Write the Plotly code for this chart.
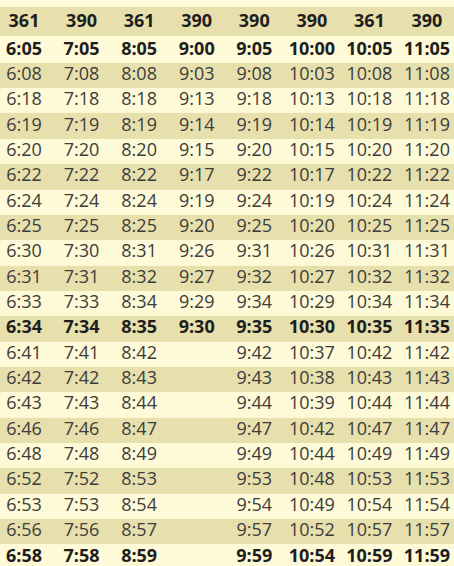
import plotly.graph_objects as go

routes = ["361", "390", "361", "390", "390", "390", "361", "390"]

col1 = ["6:05", "6:08", "6:18", "6:19", "6:20", "6:22", "6:24", "6:25", "6:30", "6:31", "6:33",
        "6:34", "6:41", "6:42", "6:43", "6:46", "6:48", "6:52", "6:53", "6:56", "6:58"]
col2 = ["7:05", "7:08", "7:18", "7:19", "7:20", "7:22", "7:24", "7:25", "7:30", "7:31", "7:33",
        "7:34", "7:41", "7:42", "7:43", "7:46", "7:48", "7:52", "7:53", "7:56", "7:58"]
col3 = ["8:05", "8:08", "8:18", "8:19", "8:20", "8:22", "8:24", "8:25", "8:31", "8:32", "8:34",
        "8:35", "8:42", "8:43", "8:44", "8:47", "8:49", "8:53", "8:54", "8:57", "8:59"]
col4 = ["9:00", "9:03", "9:13", "9:14", "9:15", "9:17", "9:19", "9:20", "9:26", "9:27", "9:29",
        "9:30", "", "", "", "", "", "", "", "", ""]
col5 = ["9:05", "9:08", "9:18", "9:19", "9:20", "9:22", "9:24", "9:25", "9:31", "9:32", "9:34",
        "9:35", "9:42", "9:43", "9:44", "9:47", "9:49", "9:53", "9:54", "9:57", "9:59"]
col6 = ["10:00", "10:03", "10:13", "10:14", "10:15", "10:17", "10:19", "10:20", "10:26", "10:27", "10:29",
        "10:30", "10:37", "10:38", "10:39", "10:42", "10:44", "10:48", "10:49", "10:52", "10:54"]
col7 = ["10:05", "10:08", "10:18", "10:19", "10:20", "10:22", "10:24", "10:25", "10:31", "10:32", "10:34",
        "10:35", "10:42", "10:43", "10:44", "10:47", "10:49", "10:53", "10:54", "10:57", "10:59"]
col8 = ["11:05", "11:08", "11:18", "11:19", "11:20", "11:22", "11:24", "11:25", "11:31", "11:32", "11:34",
        "11:35", "11:42", "11:43", "11:44", "11:47", "11:49", "11:53", "11:54", "11:57", "11:59"]

bold_rows = [0, 11, 20]

LIGHT = "#FEF9D6"
DARK = "#E7E0AD"
FONT = "Open Sans"
SIZE = 18

columns = [col1, col2, col3, col4, col5, col6, col7, col8]
n_rows = len(col1)
n_cols = len(columns)

# geometry (in axis units: one data row = 1, one column = 1)
HEADER_Y = -1.1
TEXT_DY = 0.0
ROW_PX = 25.35
FIRST_ROW_PX = 50.0
COL_PX = 57.57
FIRST_COL_PX = 24.0
W, H = 454, 566

x_range = [-FIRST_COL_PX / COL_PX, (W - FIRST_COL_PX) / COL_PX]
y_range = [(H - FIRST_ROW_PX) / ROW_PX, -FIRST_ROW_PX / ROW_PX]

# background stripes: header band + alternating data rows
edges = [-1.7, -0.55] + [i + 0.5 for i in range(n_rows)]
stripe = [1] + [1 if i % 2 == 1 else 0 for i in range(n_rows)]

fig = go.Figure()
fig.add_trace(go.Heatmap(
    z=[[s] for s in stripe],
    x=[x_range[0], x_range[1]],
    y=edges,
    colorscale=[[0, LIGHT], [1, DARK]],
    zmin=0, zmax=1,
    showscale=False,
    hoverinfo="skip",
))

# header text
fig.add_trace(go.Scatter(
    x=list(range(n_cols)),
    y=[HEADER_Y + TEXT_DY] * n_cols,
    text=routes,
    mode="text",
    textposition="middle center",
    textfont=dict(family=FONT, size=SIZE, color="#1e1e1e", weight="bold"),
    hoverinfo="skip",
))

# body text
nx, ny, nt, bx, by, bt = [], [], [], [], [], []
for c, col in enumerate(columns):
    for r, v in enumerate(col):
        if not v:
            continue
        if r in bold_rows:
            bx.append(c); by.append(r + TEXT_DY); bt.append(v)
        else:
            nx.append(c); ny.append(r + TEXT_DY); nt.append(v)

fig.add_trace(go.Scatter(
    x=nx, y=ny, text=nt, mode="text", textposition="middle center",
    textfont=dict(family=FONT, size=SIZE, color="#3c3c3c"),
    hoverinfo="skip",
))
fig.add_trace(go.Scatter(
    x=bx, y=by, text=bt, mode="text", textposition="middle center",
    textfont=dict(family=FONT, size=SIZE, color="#1e1e1e", weight="bold"),
    hoverinfo="skip",
))

fig.update_layout(
    width=W, height=H,
    margin=dict(l=0, r=0, t=0, b=0),
    paper_bgcolor=LIGHT,
    plot_bgcolor=LIGHT,
    showlegend=False,
    xaxis=dict(range=x_range, visible=False, fixedrange=True),
    yaxis=dict(range=y_range, visible=False, fixedrange=True),
)

fig.write_html(
    "out.html",
    config={"displayModeBar": False},
    post_script="document.body.style.margin='0';document.body.style.overflow='hidden';",
)
